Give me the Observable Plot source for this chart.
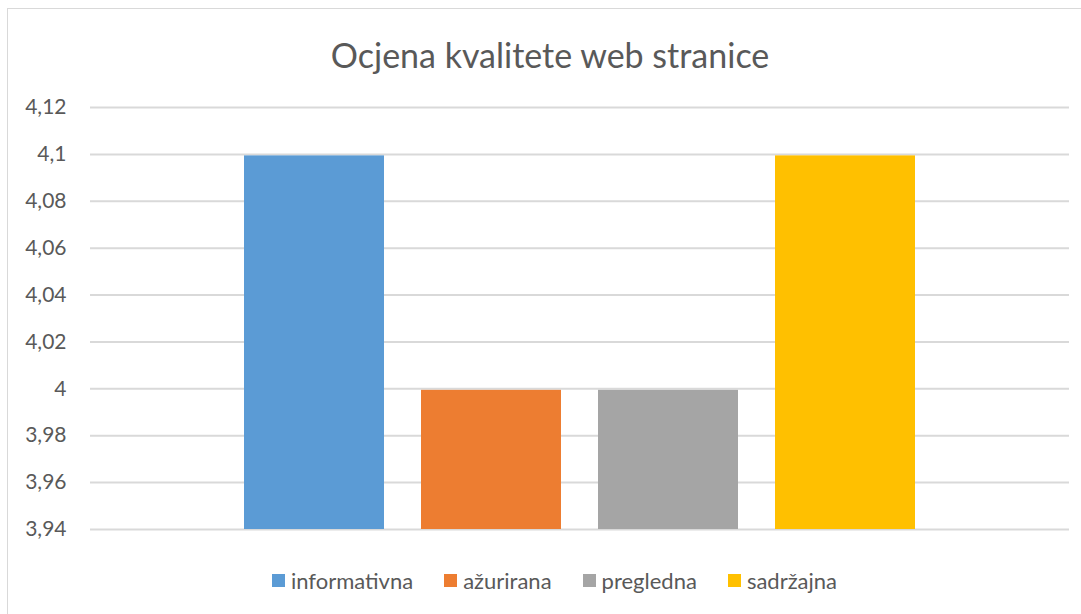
<!DOCTYPE html>
<html>
<head>
<meta charset="utf-8">
<script src="https://cdn.jsdelivr.net/npm/d3@7"></script>
<script src="https://cdn.jsdelivr.net/npm/@observablehq/plot@0.6"></script>
<style>
  html, body { margin: 0; padding: 0; background: #fff; overflow: hidden; }
  #page { position: relative; width: 1081px; height: 614px; overflow: hidden; font-family: Lato, "Open Sans", sans-serif; color: #595959; }
  #frame { position: absolute; left: 7px; top: 8px; width: 1100px; height: 700px; border: 1.5px solid #d9d9d9; box-sizing: border-box; }
  #title { position: absolute; left: 0; top: 34px; width: 1100px; text-align: center; font-size: 34px; color: #595959; }
  #chart { position: absolute; left: 0; top: 90px; }
  #legend { position: absolute; left: 0; top: 567px; width: 1081px; display: flex; justify-content: center; gap: 31px; font-size: 22px; padding-left: 28px; box-sizing: border-box; }
  .item { display: flex; align-items: center; gap: 6px; }
  .sw { width: 13px; height: 13px; display: inline-block; }
</style>
</head>
<body>
<div id="page">
  <div id="frame"></div>
  <div id="title">Ocjena kvalitete web stranice</div>
  <div id="chart"></div>
  <div id="legend"></div>
</div>
<script>
const categories = ["informativna", "ažurirana", "pregledna", "sadržajna"];
const values = [4.1, 4.0, 4.0, 4.1];
const colors = ["#5B9BD5", "#ED7D31", "#A5A5A5", "#FFC000"];
const yTicks = [3.94, 3.96, 3.98, 4.00, 4.02, 4.04, 4.06, 4.08, 4.10, 4.12];
const yMin = 3.94, yMax = 4.12;

const data = categories.map((c, i) => ({category: c, value: values[i]}));
const fmt = d => String(+d.toFixed(2)).replace(".", ",");

const plot = Plot.plot({
  width: 1081,
  height: 450,
  marginLeft: 90,
  marginRight: 12,
  marginTop: 17,
  marginBottom: 11,
  style: {fontFamily: "Lato, 'Open Sans', sans-serif", fontSize: "21px", color: "#595959", background: "transparent"},
  x: {domain: categories, paddingInner: 0.21, paddingOuter: 0.863, axis: null},
  y: {domain: [yMin, yMax], ticks: yTicks, tickFormat: fmt, tickSize: 0, tickPadding: 24, label: null},
  color: {domain: categories, range: colors},
  marks: [
    Plot.ruleY(yTicks, {stroke: "#d9d9d9", strokeWidth: 2, strokeOpacity: 1}),
    Plot.barY(data, {x: "category", y1: yMin, y2: "value", fill: "category", insetTop: 1.5})
  ]
});
document.getElementById("chart").appendChild(plot);

const legend = document.getElementById("legend");
categories.forEach((c, i) => {
  const item = document.createElement("div");
  item.className = "item";
  const sw = document.createElement("span");
  sw.className = "sw";
  sw.style.background = colors[i];
  const t = document.createElement("span");
  t.textContent = c;
  item.appendChild(sw);
  item.appendChild(t);
  legend.appendChild(item);
});
</script>
</body>
</html>
